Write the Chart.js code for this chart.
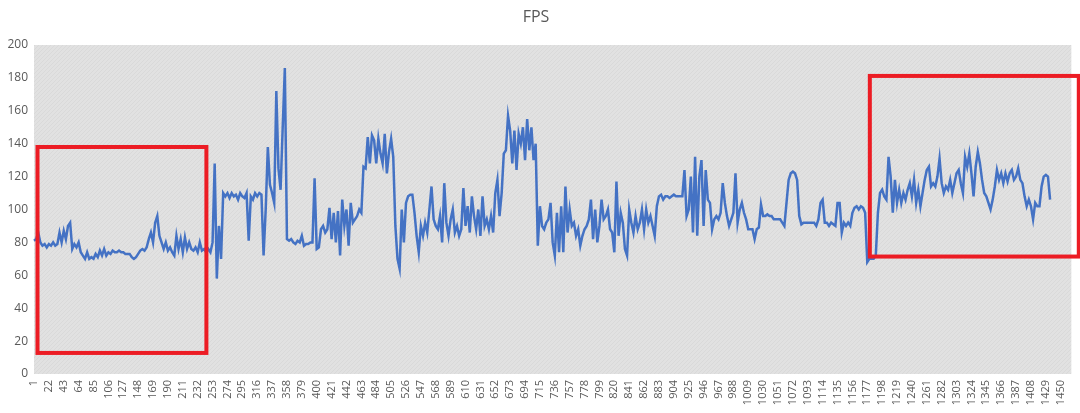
<!DOCTYPE html>
<html>
<head>
<meta charset="utf-8">
<script src="https://cdn.jsdelivr.net/npm/chart.js@4/dist/chart.umd.min.js"></script>
<style>
  html, body { margin: 0; padding: 0; background: #fff; }
  #wrap { width: 1080px; height: 413px; }
</style>
</head>
<body>
<div id="wrap"><canvas id="fpsChart" width="1080" height="413"></canvas></div>
<script>
// Frame numbers on the x axis (one sample every 3 frames)
const totalFrames = 1465;
const frameStep = 3;

// Labels shown under the x axis
const tickLabels = [1, 22, 43, 64, 85, 106, 127, 148, 169, 190, 211, 232, 253, 274, 295, 316, 337, 358, 379, 400,
  421, 442, 463, 484, 505, 526, 547, 568, 589, 610, 631, 652, 673, 694, 715, 736, 757, 778, 799, 820,
  841, 862, 883, 904, 925, 946, 967, 988, 1009, 1030, 1051, 1072, 1093, 1114, 1135, 1156, 1177, 1198,
  1219, 1240, 1261, 1282, 1303, 1324, 1345, 1366, 1387, 1408, 1429, 1450];

// FPS
const fps = [81, 82, 86, 80,
  78, 79, 77, 79, 78, 80, 78, 79,
  86, 80, 87, 82, 90, 92,
  76, 79, 77, 80, 74,
  72, 70, 74, 70, 71, 70, 73, 71,
  75, 72, 76, 72, 74, 73, 75, 74,
  74, 75, 74, 74, 73, 73, 73, 71, 70,
  71, 73, 75, 76, 75, 77, 82,
  86, 80, 92, 96, 84,
  80, 76, 80, 75, 77, 74, 72,
  84, 76, 82, 74, 83, 76,
  80, 76, 75, 77, 74, 80, 75, 76,
  74, 76, 74, 80, 128, 58, 90, 70, 110,
  108, 110, 107, 110, 108, 109, 106, 110, 108, 107, 110, 81, 108, 106, 110, 108, 110, 109,
  72, 100, 138, 115, 110, 104, 172, 125, 112, 150, 186, 82, 81, 82, 80, 79, 81,
  80, 84, 78, 79, 79, 80, 80, 119, 76, 77,
  88, 90, 86, 88, 101, 82, 98, 80, 99, 72, 106, 90, 100, 78, 104, 92,
  94, 96, 100, 98,
  126, 125, 144, 128,
  145, 142, 128, 143, 134, 128, 146, 122, 135, 143, 132,
  90, 70, 64,
  100, 80, 104, 108, 109, 109, 98, 84,
  74, 90, 84, 92, 86, 100, 114, 94, 90, 88, 96, 80, 116, 92,
  84, 94, 100, 86, 90, 84, 88, 113,
  90, 102, 86, 108, 96, 88, 100, 84, 108, 90, 94, 88, 96, 86, 110,
  118, 96, 110,
  134, 136, 157, 148, 128, 148, 124, 146, 140, 150, 130, 155, 136, 150, 130, 140,
  78, 102, 90, 88, 92, 94,
  104, 80, 72, 98, 74, 102, 74, 114,
  86, 100, 90, 92, 84, 88, 78, 84, 88, 90, 94, 106,
  82, 100, 80, 90, 106, 94, 96,
  100, 88, 86, 74, 117, 84, 98, 92, 76, 72, 100,
  92, 86, 96, 88, 92, 100, 88, 100, 92, 96, 90, 84, 102,
  108, 109, 106, 108, 108, 107, 108, 109, 108, 108, 108, 108,
  124, 96, 100, 120, 86, 132, 84, 120, 130, 90, 124,
  106, 104, 88, 94, 96, 94, 98, 116,
  104, 96, 90, 94, 98, 122, 92, 100, 104, 98, 94, 88,
  88, 88, 82, 88, 89, 103, 96,
  96, 97, 96, 96, 94, 94, 94, 94, 92, 90,
  104, 118, 122, 123, 122, 118, 96,
  91, 92, 92, 92, 92, 92, 92,
  90, 94, 104, 106, 92,
  92, 90, 92, 91, 90,
  104, 104, 86, 92, 90, 92, 90, 98,
  101, 102, 100, 102, 101, 98,
  68, 70, 70, 70, 72,
  98, 110, 112, 108, 106,
  132, 120, 98,
  118, 104, 112, 104, 110, 106, 112, 116, 108, 118, 104, 112, 102,
  110, 118, 124, 126, 114, 116, 114, 120, 131, 116, 110,
  114, 112, 118, 110, 116, 122, 124, 116, 110, 132, 126, 134, 122, 108, 126, 135, 128, 118,
  110, 108, 104, 100, 106, 114,
  124, 118, 122, 116, 122, 117, 122, 124, 118, 120, 125, 118, 116,
  108, 102, 106, 102, 94, 104, 102, 102,
  114, 120, 121, 120, 106];

// Red highlight boxes: [fromIndex, toIndex, topValue, bottomValue]
const boxes = [
  [1.65, 81.1, 138, 12.8],
  [393.2, 491.5, 181.2, 71.4]
];

const frames = [];
for (let f = 1; f <= totalFrames; f += frameStep) frames.push(f);

// Gray hatched plot background
function makePattern(ctx) {
  const c = document.createElement('canvas');
  c.width = 4;
  c.height = 4;
  const p = c.getContext('2d');
  p.fillStyle = '#e1e1e1';
  p.fillRect(0, 0, 4, 4);
  p.strokeStyle = '#d9d9d9';
  p.lineWidth = 1;
  p.beginPath();
  p.moveTo(0, 4);
  p.lineTo(4, 0);
  p.stroke();
  return ctx.createPattern(c, 'repeat');
}

const plotBackground = {
  id: 'plotBackground',
  beforeDraw(chart) {
    const { ctx, chartArea } = chart;
    ctx.save();
    ctx.fillStyle = makePattern(ctx);
    ctx.fillRect(chartArea.left, chartArea.top, chartArea.right - chartArea.left, chartArea.bottom - chartArea.top);
    ctx.restore();
  }
};

const redBoxes = {
  id: 'redBoxes',
  afterDraw(chart) {
    const { ctx } = chart;
    const xs = chart.scales.x;
    const ys = chart.scales.y;
    ctx.save();
    ctx.strokeStyle = '#ec1c24';
    ctx.lineWidth = 4;
    boxes.forEach(function(b) {
      const x1 = xs.getPixelForValue(b[0]);
      const x2 = xs.getPixelForValue(b[1]);
      const y1 = ys.getPixelForValue(b[2]);
      const y2 = ys.getPixelForValue(b[3]);
      ctx.strokeRect(x1, y1, x2 - x1, y2 - y1);
    });
    ctx.restore();
  }
};

const ctx = document.getElementById('fpsChart').getContext('2d');
new Chart(ctx, {
  type: 'line',
  data: {
    labels: frames,
    datasets: [{
      label: 'FPS',
      data: fps,
      borderColor: '#4472c4',
      borderWidth: 2.5,
      pointRadius: 0,
      tension: 0,
      fill: false
    }]
  },
  options: {
    responsive: false,
    animation: false,
    layout: { padding: { left: 0, right: 8, top: 0, bottom: 0 } },
    plugins: {
      legend: { display: false },
      tooltip: { enabled: false },
      title: {
        display: true,
        text: 'FPS',
        color: '#595959',
        font: { family: 'Open Sans', size: 16, weight: 'normal', lineHeight: 1.2 },
        padding: { top: 8, bottom: 17.8 }
      }
    },
    scales: {
      x: {
        grid: { display: false, drawTicks: false },
        border: { display: false },
        afterBuildTicks: function(scale) {
          scale.ticks = scale.ticks.filter(t => tickLabels.includes(frames[t.value]));
        },
        afterFit: function(scale) { scale.height = 39; },
        ticks: {
          autoSkip: false,
          minRotation: 90,
          maxRotation: 90,
          padding: 6,
          color: '#595959',
          font: { family: 'Open Sans', size: 11 }
        }
      },
      y: {
        min: 0,
        max: 200,
        grid: { display: false, drawTicks: false },
        border: { display: false },
        afterFit: function(scale) { scale.width = 34; },
        ticks: {
          stepSize: 20,
          padding: 6,
          color: '#595959',
          font: { family: 'Open Sans', size: 12 }
        }
      }
    }
  },
  plugins: [plotBackground, redBoxes]
});
</script>
</body>
</html>
